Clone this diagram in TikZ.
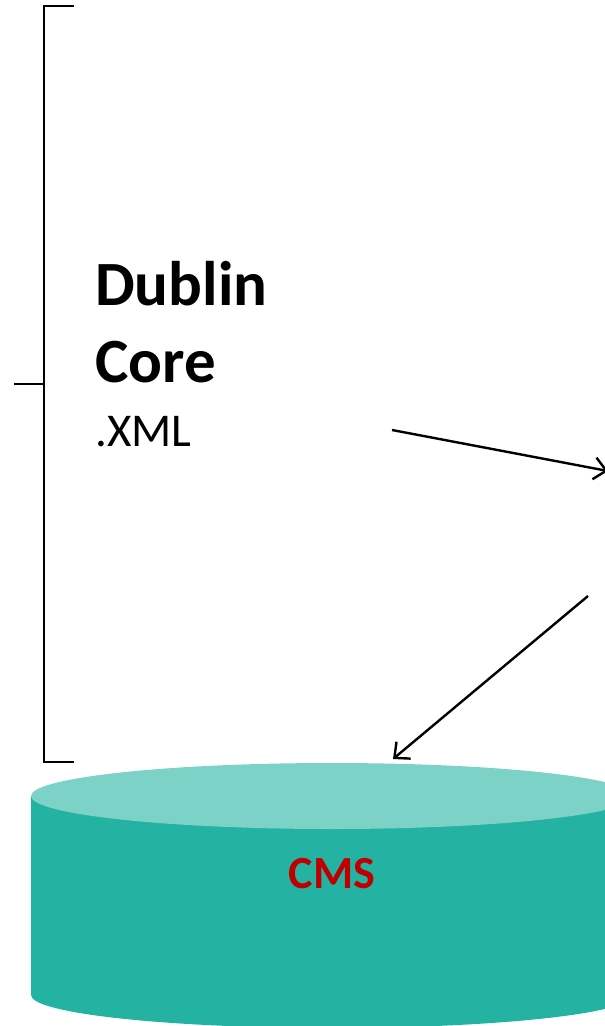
\documentclass[tikz,border=0pt]{standalone}
\usepackage{fontspec}
\setmainfont{Carlito}
\usepackage{tikz}
\usepackage{xcolor}
\usetikzlibrary{calc,arrows.meta}
\definecolor{cmsbody}{HTML}{24B3A3}
\definecolor{cmstop}{HTML}{7DD2C8}
\definecolor{cmsred}{HTML}{C00000}
\tikzset{
  title/.style={ % big bold words of the label
    anchor=base west, inner sep=0pt, font=\bfseries\fontsize{63}{76}\selectfont
  },
  ext/.style={ % the file extension under it
    anchor=base west, inner sep=0pt, font=\fontsize{47}{56}\selectfont
  },
  bracket/.style={
    line width=2pt, black
  },
  flow/.style={ % plain arrows with an open tip
    line width=2.4pt, -{Straight Barb[length=12pt,width=22pt,line width=2.4pt]}
  }
}

\begin{document}
\begin{tikzpicture}[x=1pt, y=-1pt]
      \useasboundingbox (0,0) rectangle (605,1026);
      \clip (0,0) rectangle (605,1026);

      % the database at the bottom
      \fill[cmsbody] (31,796) -- (31,995) arc[start angle=180, end angle=360, x radius=301, y radius=-33] -- (633,796) -- cycle;
      \fill[cmstop] (332,796) ellipse[x radius=301, y radius=33];
      \node[font=\bfseries\fontsize{46}{55}\selectfont, text=cmsred] (cms) at (332,874) {CMS};
      \coordinate (cms_top) at (393,759);

      % the label and its bracket
      \node[title] (dublin) at (95,305) {Dublin};
      \node[title] (core) at (95,382) {Core};
      \node[ext] (xml) at (95,446) {.XML};

      \coordinate (b_top) at (44,6);
      \coordinate (b_bot) at (44,762);
      \draw[bracket] ($(b_top)+(30,0)$) -- (b_top) -- (b_bot) -- ($(b_bot)+(30,0)$);
      \draw[bracket] (14,384) -- (44,384);

      % arrows
      \coordinate (out_a) at (392,430);
      \coordinate (in_a) at (608,471);
      \coordinate (out_b) at (588,596);
      \draw[flow] (out_a) -- (in_a);
      \draw[flow] (out_b) -- (cms_top);
\end{tikzpicture}
\end{document}
